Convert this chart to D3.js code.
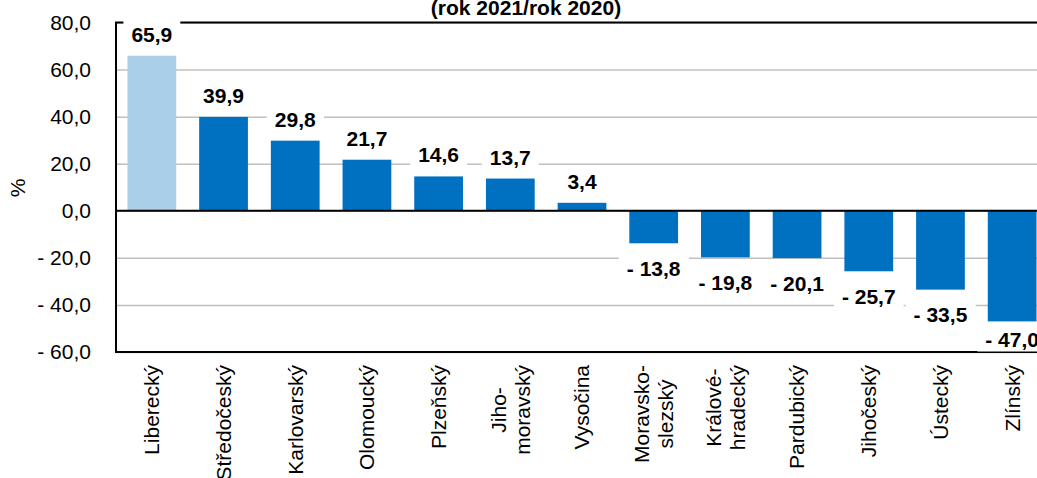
<!DOCTYPE html>
<html>
<head>
<meta charset="utf-8">
<script src="https://cdn.jsdelivr.net/npm/d3@7"></script>
<style>
  body { margin: 0; background: #fff; }
  text { font-family: "Liberation Sans", Arial, sans-serif; }
</style>
</head>
<body>
<div id="main"></div>
<script>
// kraje a meziroční změna v %
var regions = ["Liberecký", "Středočeský", "Karlovarský", "Olomoucký", "Plzeňský",
  "Jiho-\nmoravský", "Vysočina", "Moravsko-\nslezský", "Králové-\nhradecký",
  "Pardubický", "Jihočeský", "Ústecký", "Zlínský"];
var values = [65.9, 39.9, 29.8, 21.7, 14.6, 13.7, 3.4, -13.8, -19.8, -20.1, -25.7, -33.5, -47.0];
var highlight = ["Liberecký"];
var yTicks = [-60, -40, -20, 0, 20, 40, 60, 80];
var titleText = "(rok 2021/rok 2020)";
var yLabel = "%";

var dimensions = {
  width: 1037,
  height: 478,
  margin: { top: 22.5, bottom: 126, right: -11, left: 116 }
}
dimensions.boundedWidth = dimensions.width - dimensions.margin.left - dimensions.margin.right
dimensions.boundedHeight = dimensions.height - dimensions.margin.top - dimensions.margin.bottom

var fmt = function(v) {
  var s = Math.abs(v).toFixed(1).replace(".", ",");
  return v < 0 ? "- " + s : s;
}

var svg = d3.select("#main")
  .append("svg")
    .attr("width", dimensions.width)
    .attr("height", dimensions.height)

var SVG = svg.append("g")
  .attr("transform", "translate(" + dimensions.margin.left + "," + dimensions.margin.top + ")")

var x = d3.scaleBand()
  .domain(regions)
  .range([0, dimensions.boundedWidth])
  .paddingInner(0.32)
  .paddingOuter(0.16)

var y = d3.scaleLinear()
  .domain([-60, 80])
  .range([dimensions.boundedHeight, 0])

// grid lines
var grid = SVG.append("g")
  .call(d3.axisLeft(y).tickValues(yTicks).tickSize(-dimensions.boundedWidth).tickFormat(""))
grid.select(".domain").remove()
grid.selectAll("line").attr("stroke", "#c0c0c0").attr("stroke-width", 1.5)

// y axis labels
var yAxis = SVG.append("g")
  .call(d3.axisLeft(y).tickValues(yTicks).tickSize(0).tickPadding(25).tickFormat(fmt))
yAxis.select(".domain").remove()
yAxis.selectAll("text")
  .style("font-family", "'Liberation Sans', Arial, sans-serif")
  .style("font-size", "21px")
  .attr("fill", "#000")

// bars
SVG.append("g")
  .selectAll("rect")
  .data(values)
  .enter()
  .append("rect")
    .attr("x", function(d, i) { return x(regions[i]); })
    .attr("y", function(d) { return y(Math.max(0, d)); })
    .attr("width", x.bandwidth())
    .attr("height", function(d) { return Math.abs(y(d) - y(0)); })
    .attr("fill", function(d, i) { return highlight.indexOf(regions[i]) >= 0 ? "#a9cfe9" : "#0070c0"; })

// frame + zero line
SVG.append("line").attr("x1", 0).attr("x2", dimensions.boundedWidth)
  .attr("y1", y(0)).attr("y2", y(0)).attr("stroke", "#000").attr("stroke-width", 2)
SVG.append("rect")
  .attr("x", 0).attr("y", 0)
  .attr("width", dimensions.boundedWidth).attr("height", dimensions.boundedHeight)
  .attr("fill", "none").attr("stroke", "#000").attr("stroke-width", 2)

// value labels with white boxes
var labels = SVG.append("g")
values.forEach(function(d, i) {
  var cx = x(regions[i]) + x.bandwidth() / 2;
  var base = d >= 0 ? y(d) - 14 : Math.min(y(d) + 32.5, dimensions.boundedHeight - 5.5);
  var g = labels.append("g");
  var t = g.append("text")
    .attr("x", cx).attr("y", base)
    .attr("text-anchor", "middle")
    .style("font-size", "21px").style("font-weight", "bold")
    .text(fmt(d));
  var b = t.node().getBBox();
  g.insert("rect", "text")
    .attr("x", b.x - 8).attr("y", b.y - 3)
    .attr("width", b.width + 16).attr("height", b.height + 4)
    .attr("fill", "#fff");
});

// category labels, rotated
var labelTop = dimensions.margin.top + dimensions.boundedHeight + 13;
regions.forEach(function(name, i) {
  var cx = dimensions.margin.left + x(name) + x.bandwidth() / 2;
  var lines = name.split("\n");
  var g = svg.append("g").attr("transform", "translate(" + cx + ",0) rotate(-90)");
  var t = g.append("text").attr("text-anchor", "end").style("font-size", "21px");
  var spans = lines.map(function(l, k) {
    return t.append("tspan")
      .attr("y", (k - (lines.length - 1) / 2) * 24)
      .attr("dy", "0.35em")
      .text(l);
  });
  var lens = spans.map(function(s) { return s.node().getComputedTextLength(); });
  var maxLen = d3.max(lens);
  spans.forEach(function(s, k) { s.attr("x", -(labelTop + (maxLen - lens[k]) / 2)); });
});

// y label
svg.append("text")
  .attr("transform", "translate(25,188) rotate(-90)")
  .attr("text-anchor", "middle")
  .style("font-size", "21px")
  .text(yLabel)

// title (first line lies above the visible area)
svg.append("text")
  .attr("x", 526).attr("y", 15)
  .attr("text-anchor", "middle")
  .style("font-size", "21px").style("font-weight", "bold")
  .text(titleText)
</script>
</body>
</html>
